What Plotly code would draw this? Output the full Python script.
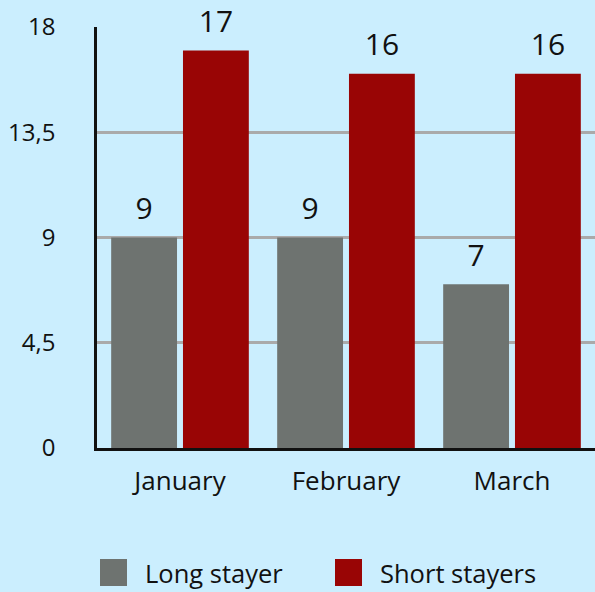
import plotly.graph_objects as go

categories = ["January", "February", "March"]
long_stayer = [9, 9, 7]
short_stayers = [17, 16, 16]
series_names = ["Long stayer", "Short stayers"]
y_ticks = [0, 4.5, 9, 13.5, 18]

GRAY = "#6e7370"
RED = "#990505"
BG = "#cbeefe"
FONT = "Open Sans"

fig = go.Figure()
for name, vals, col in [(series_names[0], long_stayer, GRAY), (series_names[1], short_stayers, RED)]:
    fig.add_trace(go.Bar(
        x=categories, y=vals, name=name, marker=dict(color=col, line=dict(width=0)),
        showlegend=False, hoverinfo="skip",
    ))
# value labels: invisible markers in grouped scatter mode carry the text
for name, vals in [(series_names[0], long_stayer), (series_names[1], short_stayers)]:
    fig.add_trace(go.Scatter(
        x=categories, y=vals, mode="markers+text", text=[str(v) for v in vals],
        textposition="top center", marker=dict(size=16, opacity=0),
        textfont=dict(size=30, color="#111111", family=FONT),
        cliponaxis=False, showlegend=False, hoverinfo="skip",
    ))

fig.update_layout(
    width=595, height=592,
    paper_bgcolor=BG, plot_bgcolor=BG,
    margin=dict(l=97, r=0, t=27, b=144),
    barmode="group", bargap=0.135, bargroupgap=0.083,
    scattermode="group", scattergap=0.135,
    separators=", ",
    font=dict(family=FONT, color="#111111"),
    xaxis=dict(showline=True, linecolor="#111111", linewidth=2.5,
               tickfont=dict(size=26, family=FONT), ticks="", ticklabelstandoff=8,
               showgrid=False),
    yaxis=dict(range=[0, 18], tickvals=y_ticks, ticktext=["0", "4,5", "9", "13,5", "18"],
               showline=True, linecolor="#111111", linewidth=2.5,
               gridcolor="#aaaaaa", gridwidth=2.5, zeroline=False,
               tickfont=dict(size=24, family=FONT), ticks="", ticklabelstandoff=34),
)

legend_items = [(series_names[0], GRAY, 100), (series_names[1], RED, 335)]
for name, col, x0 in legend_items:
    fig.add_shape(type="rect", xref="paper", yref="paper",
                  x0=(x0 - 97) / 498, x1=(x0 + 27 - 97) / 498,
                  y0=-(559 - 448) / 421, y1=-(586 - 448) / 421,
                  fillcolor=col, line=dict(width=0))
    fig.add_annotation(xref="paper", yref="paper", x=(x0 + 43 - 97) / 498,
                       y=-(573 - 448) / 421, text=name, showarrow=False,
                       xanchor="left", yanchor="middle",
                       font=dict(size=25.5, family=FONT, color="#111111"))

fig.write_html("out.html", config={"displayModeBar": False},
               post_script="document.body.style.margin='0';document.body.style.padding='0';document.body.style.overflow='hidden';")
